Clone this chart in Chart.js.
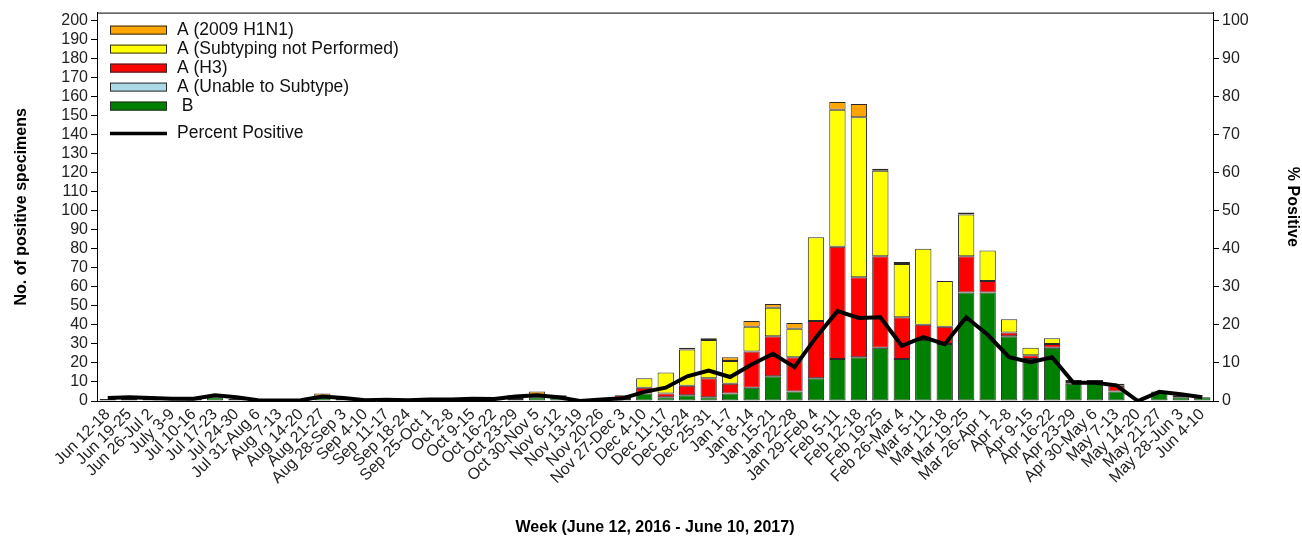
<!DOCTYPE html>
<html>
<head>
<meta charset="utf-8">
<script src="https://cdn.jsdelivr.net/npm/chart.js@4.4.1/dist/chart.umd.min.js"></script>
<style>
  html, body { margin: 0; padding: 0; background: #fff; }
  #wrap { width: 1302px; height: 542px; }
</style>
</head>
<body>
<div id="wrap"><canvas id="c" width="1302" height="542"></canvas></div>
<script>
const categories = [
  "Jun 12-18","Jun 19-25","Jun 26-Jul 2","July 3-9","Jul 10-16","Jul 17-23","Jul 24-30","Jul 31-Aug 6",
  "Aug 7-13","Aug 14-20","Aug 21-27","Aug 28-Sep 3","Sep 4-10","Sep 11-17","Sep 18-24","Sep 25-Oct 1",
  "Oct 2-8","Oct 9-15","Oct 16-22","Oct 23-29","Oct 30-Nov 5","Nov 6-12","Nov 13-19","Nov 20-26",
  "Nov 27-Dec 3","Dec 4-10","Dec 11-17","Dec 18-24","Dec 25-31","Jan 1-7","Jan 8-14","Jan 15-21",
  "Jan 22-28","Jan 29-Feb 4","Feb 5-11","Feb 12-18","Feb 19-25","Feb 26-Mar 4","Mar 5-11","Mar 12-18",
  "Mar 19-25","Mar 26-Apr 1","Apr 2-8","Apr 9-15","Apr 16-22","Apr 23-29","Apr 30-May 6","May 7-13",
  "May 14-20","May 21-27","May 28-Jun 3","Jun 4-10"
];

const fluB = [1,1,1,0,1,2,1,0,0,0,2,1,0,0,0,0,0,1,0,1,2,2,0,1,1,
  4,2,3,2,4,7,13,5,12,22,23,28,22,32,30,57,57,34,22,28,9,10,5,0,5,2,2];
const unableToSubtype = [0,0,0,0,0,0,0,0,0,0,0,0,0,0,0,0,0,0,0,0,0,0,0,0,0,
  0,0,0,0,0,0,0,0,0,0,0,0,0,0,0,0,0,0,0,0,0,0,0,0,0,0,0];
const h3 = [0,0,0,0,0,0,0,0,0,0,0,0,0,0,0,0,0,0,0,1,0,0,0,0,2,
  3,2,5,10,5,19,21,18,30,59,42,48,22,8,9,19,6,2,2,2,0,0,3,0,0,0,0];
const notSubtyped = [0,0,0,0,0,0,0,0,0,0,0,0,0,0,0,0,0,0,0,0,1,0,0,0,0,
  5,11,19,20,12,13,15,15,44,72,84,45,28,40,24,22,16,7,4,3,1,1,1,0,0,1,0];
const h1n1 = [0,0,0,0,0,0,0,0,0,0,2,0,0,0,0,0,0,0,0,1,2,1,0,0,0,
  0,0,1,1,2,3,2,3,0,4,7,1,1,0,0,1,0,0,0,0,1,0,0,0,0,0,0];
const percentPositive = [0.8,1.0,0.8,0.6,0.6,1.5,1.0,0.2,0.1,0.2,1.2,0.8,0.2,0.3,0.2,0.4,0.4,0.6,0.5,1.2,1.5,1.0,0.0,0.4,0.7,
  2.4,3.5,6.5,8.0,6.3,9.6,12.4,8.9,16.7,23.6,21.8,22.0,14.5,16.8,14.9,22.0,17.4,11.5,10.2,11.5,4.8,4.8,4.1,0.0,2.4,1.8,1.0];

const leftTicks = [0,10,20,30,40,50,60,70,80,90,100,110,120,130,140,150,160,170,180,190,200];
const rightTicks = [0,10,20,30,40,50,60,70,80,90,100];

const FONT = "'Liberation Sans', Arial, sans-serif";
const COL = { h1n1: "#ffa500", snp: "#ffff00", h3: "#ff0000", unable: "#add8e6", b: "#008000" };
const EDGE = "#2a2a2a";

function barSet(label, data, color) {
  return { type: "bar", label, data, backgroundColor: color, borderColor: EDGE,
           borderWidth: c => (c.raw ? 1 : 0),
           borderSkipped: false, yAxisID: "y", order: 1, barPercentage: 0.76, categoryPercentage: 1.0 };
}

const legendItems = [
  { text: "A (2009 H1N1)", color: COL.h1n1 },
  { text: "A (Subtyping not Performed)", color: COL.snp },
  { text: "A (H3)", color: COL.h3 },
  { text: "A (Unable to Subtype)", color: COL.unable },
  { text: " B", color: COL.b }
];

const customLegend = {
  id: "customLegend",
  afterDraw(chart) {
    const ctx = chart.ctx, a = chart.chartArea;
    ctx.save();
    ctx.strokeStyle = "#000"; ctx.lineWidth = 1;
    ctx.beginPath(); ctx.moveTo(a.left, a.top + 0.5); ctx.lineTo(a.right, a.top + 0.5); ctx.stroke();
    const x0 = a.left + 13, w = 57, h = 9;
    ctx.font = "17.5px " + FONT; ctx.textBaseline = "middle";
    legendItems.forEach((it, i) => {
      const cy = a.top + 17.5 + i * 19;
      ctx.fillStyle = it.color; ctx.fillRect(x0, cy - h / 2, w, h);
      ctx.strokeStyle = EDGE; ctx.lineWidth = 1; ctx.strokeRect(x0 + 0.5, cy - h / 2 + 0.5, w - 1, h - 1);
      ctx.fillStyle = "#111"; ctx.fillText(it.text, x0 + 67, cy);
    });
    const ly = a.top + 121;
    ctx.strokeStyle = "#000"; ctx.lineWidth = 3.5;
    ctx.beginPath(); ctx.moveTo(x0, ly); ctx.lineTo(x0 + w, ly); ctx.stroke();
    ctx.fillStyle = "#111"; ctx.fillText("Percent Positive", x0 + 67, ly);
    ctx.restore();
  }
};

const useTicks = list => scale => { scale.ticks = list.map(v => ({ value: v })); };

new Chart(document.getElementById("c"), {
  data: {
    labels: categories,
    datasets: [
      { type: "line", label: "Percent Positive", data: percentPositive, yAxisID: "y2", borderColor: "#000",
        borderWidth: 4, pointRadius: 0, tension: 0, fill: false, order: 0 },
      barSet("B", fluB, COL.b),
      barSet("A (Unable to Subtype)", unableToSubtype, COL.unable),
      barSet("A (H3)", h3, COL.h3),
      barSet("A (Subtyping not Performed)", notSubtyped, COL.snp),
      barSet("A (2009 H1N1)", h1n1, COL.h1n1)
    ]
  },
  options: {
    responsive: false,
    animation: false,
    layout: { padding: 0 },
    plugins: { legend: { display: false }, tooltip: { enabled: false } },
    scales: {
      x: {
        stacked: true,
        grid: { display: false, drawTicks: false },
        border: { color: "#000", width: 1 },
        ticks: { autoSkip: false, maxRotation: 45, minRotation: 45, padding: 4,
                 font: { family: FONT, size: 16 }, color: "#222" },
        title: { display: true, text: "Week (June 12, 2016 - June 10, 2017)", color: "#000",
                 font: { family: FONT, size: 16, weight: "bold" }, padding: { top: 0, bottom: 5 } },
        afterFit: s => { s.height = 141; }
      },
      y: {
        position: "left", stacked: true, min: 0, max: 204,
        afterBuildTicks: useTicks(leftTicks),
        ticks: { autoSkip: false, padding: 3, font: { family: FONT, size: 16 }, color: "#222" },
        grid: { drawOnChartArea: false, drawTicks: true, tickLength: 6, color: "#000" },
        border: { color: "#000", width: 1 },
        title: { display: true, text: "No. of positive specimens", color: "#000",
                 font: { family: FONT, size: 16, weight: "bold" }, padding: { top: 12, bottom: 0 } },
        afterFit: s => { s.width = 97; }
      },
      y2: {
        position: "right", stacked: false, min: 0, max: 102,
        afterBuildTicks: useTicks(rightTicks),
        ticks: { autoSkip: false, padding: 3, font: { family: FONT, size: 16 }, color: "#222" },
        grid: { drawOnChartArea: false, drawTicks: true, tickLength: 6, color: "#000" },
        border: { color: "#000", width: 1 },
        title: { display: true, text: "% Positive", color: "#000",
                 font: { family: FONT, size: 16, weight: "bold" }, padding: { top: 0, bottom: 5 } },
        afterFit: s => { s.width = 89; }
      }
    }
  },
  plugins: [customLegend]
});
</script>
</body>
</html>
